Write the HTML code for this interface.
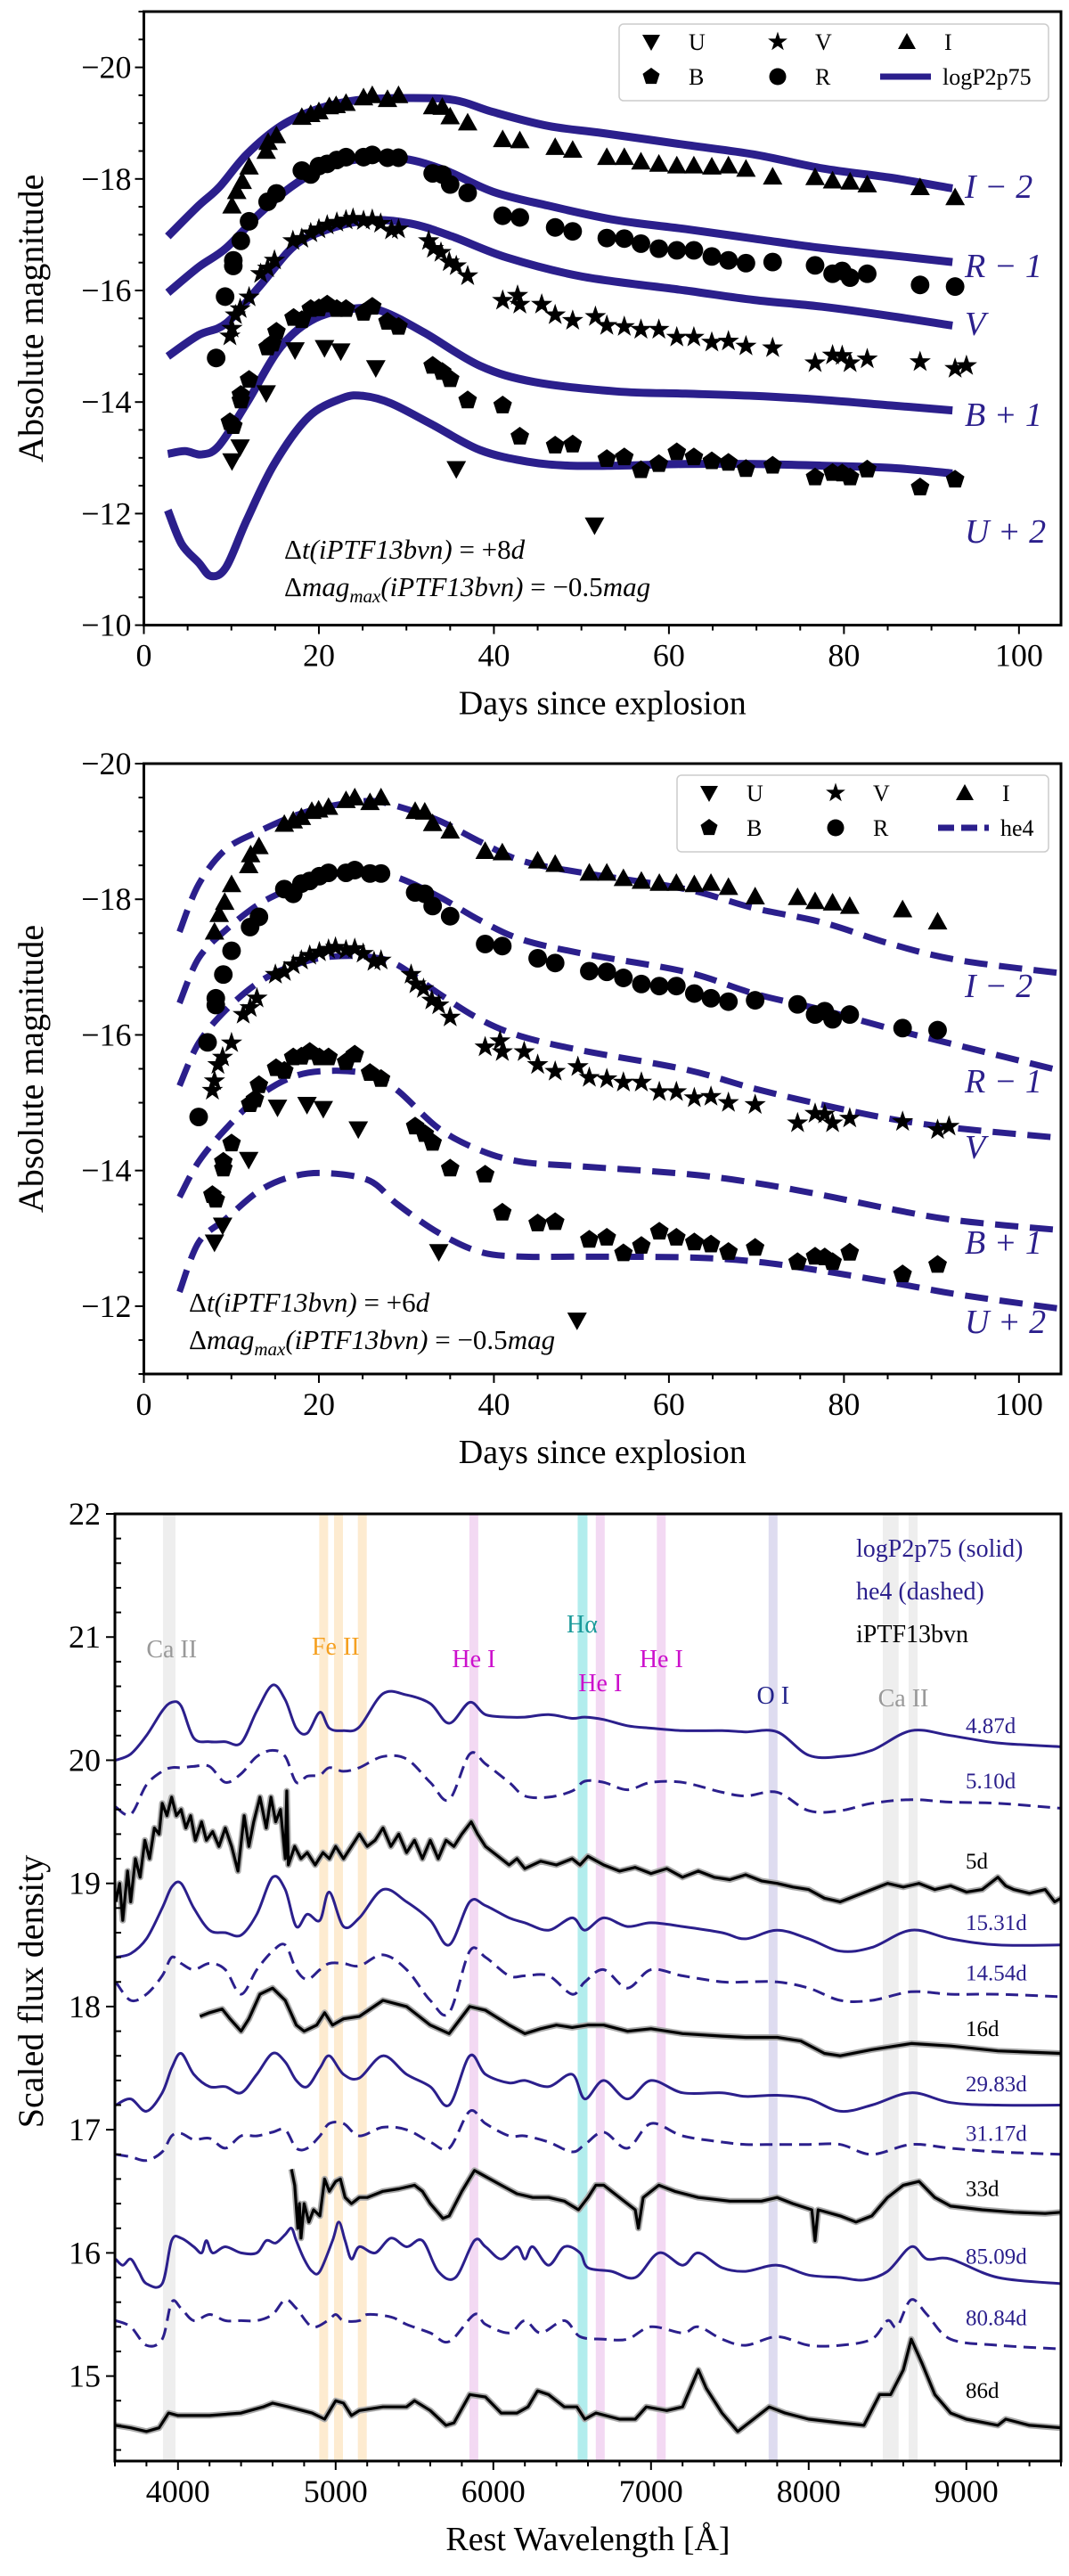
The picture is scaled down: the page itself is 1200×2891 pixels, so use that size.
<!DOCTYPE html>
<html><head><meta charset="utf-8"><style>
body{margin:0;background:#fff;}
svg{display:block;font-family:"Liberation Serif",serif;}
</style></head><body>
<svg id="fig" width="1200" height="2891" viewBox="0 0 1200 2891" xmlns="http://www.w3.org/2000/svg"></svg>
<script>
// ---------- photometry (phase as in panel 2; panel 1 = +2 d) ----------
const iDays=[8.07,8.61,9.24,10.02,11.98,12.2,13.15,16.05,17.07,18.0,19.19,19.97,21.1,23.1,24.1,25.84,27.1,31.0,32.1,33.0,35.0,39.0,40.96,45.0,47.0,50.9,52.9,54.8,56.85,58.9,60.85,62.9,64.8,66.8,69.85,74.7,76.7,78.7,80.66,86.7,90.7];
const iMags=[-17.52,-17.78,-17.96,-18.22,-18.50,-18.66,-18.78,-19.11,-19.16,-19.21,-19.30,-19.32,-19.36,-19.46,-19.50,-19.43,-19.50,-19.30,-19.29,-19.12,-19.01,-18.71,-18.69,-18.57,-18.52,-18.39,-18.39,-18.31,-18.27,-18.24,-18.24,-18.22,-18.24,-18.18,-18.04,-18.03,-17.97,-17.95,-17.90,-17.85,-17.67];
const rDays=[6.26,7.28,8.22,8.22,9.08,10.02,12.14,13.15,16.05,17.07,18.0,18.95,20.05,21.1,23.1,24.1,25.84,27.1,31,32.1,33,35,39,40.96,45,47,50.9,52.9,54.8,56.85,58.9,60.85,62.9,64.8,66.8,69.85,74.7,76.7,77.8,78.7,80.66,86.7,90.7];
const rMags=[-14.79,-15.89,-16.44,-16.54,-16.89,-17.24,-17.59,-17.74,-18.15,-18.08,-18.23,-18.27,-18.34,-18.39,-18.39,-18.43,-18.38,-18.38,-18.10,-18.08,-17.90,-17.75,-17.34,-17.31,-17.13,-17.06,-16.94,-16.93,-16.84,-16.75,-16.72,-16.72,-16.61,-16.54,-16.49,-16.51,-16.45,-16.30,-16.35,-16.23,-16.30,-16.10,-16.07];
const vDays=[7.83,8.07,8.46,9.0,10.02,11.35,12.14,12.92,15.03,16.05,17.07,18,18.95,20.05,21.1,21.9,23.1,24.1,25.06,26.3,27.1,30.54,31.09,31.95,32.9,33.7,35,39,40.7,40.96,43.46,45,47,49.6,50.9,52.9,54.8,56.85,58.9,60.85,62.9,64.8,66.8,69.85,74.7,76.7,77.8,78.7,80.66,86.7,90.7,92.0];
const vMags=[-15.18,-15.32,-15.56,-15.67,-15.88,-16.30,-16.40,-16.54,-16.89,-16.93,-17.03,-17.10,-17.17,-17.22,-17.26,-17.29,-17.25,-17.27,-17.20,-17.08,-17.10,-16.89,-16.75,-16.68,-16.51,-16.44,-16.26,-15.82,-15.91,-15.75,-15.75,-15.56,-15.46,-15.53,-15.37,-15.35,-15.30,-15.30,-15.16,-15.16,-15.07,-15.09,-15.00,-14.97,-14.70,-14.84,-14.83,-14.70,-14.77,-14.72,-14.60,-14.65];
const bDays=[7.83,8.22,9.08,9.08,10.02,12.14,12.69,13.15,15.11,16.05,17.07,18,18.95,20.05,21.1,23.1,24.1,25.84,27.1,31,32.1,33,35,39,40.96,45,47,50.9,52.9,54.8,56.85,58.9,60.85,62.9,64.8,66.8,69.85,74.7,76.7,77.8,78.7,80.66,86.7,90.7];
const bMags=[-13.64,-13.57,-14.03,-14.13,-14.40,-14.98,-15.05,-15.26,-15.51,-15.47,-15.67,-15.68,-15.75,-15.67,-15.67,-15.60,-15.71,-15.44,-15.35,-14.65,-14.54,-14.41,-14.03,-13.94,-13.38,-13.22,-13.24,-12.98,-13.01,-12.78,-12.89,-13.10,-13.01,-12.94,-12.91,-12.80,-12.86,-12.65,-12.73,-12.72,-12.65,-12.79,-12.47,-12.61];
const uDays=[8.07,9.0,11.98,15.27,18.64,20.5,24.5,33.7,49.5];
const uMags=[-12.94,-13.19,-14.16,-14.93,-14.97,-14.91,-14.61,-12.80,-11.79];
// ---------- model logP2p75 (panel 1 phase) ----------
const m1IDays=[2.74,6.26,8.6,11.75,15.66,19.6,24.3,30.5,35.6,39.9,46.2,52.5,61.9,69.7,77.5,85.4,92.4];
const m1IMags=[-16.97,-17.52,-17.85,-18.44,-18.95,-19.24,-19.41,-19.45,-19.41,-19.2,-18.95,-18.82,-18.61,-18.44,-18.19,-18.02,-17.83];
const m1RDays=[2.74,6.26,9.4,13.3,17.2,21.1,25.1,29.8,34.5,39.9,46.2,54,61.9,69.7,77.5,85.4,92.4];
const m1RMags=[-15.96,-16.42,-16.76,-17.39,-17.9,-18.23,-18.36,-18.36,-18.15,-17.77,-17.52,-17.26,-17.1,-16.93,-16.76,-16.63,-16.51];
const m1VDays=[2.74,6.26,9.4,13.3,17.2,21.1,25.8,30.5,35.2,41.5,50.1,61.9,69.7,77.5,85.4,92.4];
const m1VMags=[-14.82,-15.2,-15.41,-16.09,-16.8,-17.1,-17.26,-17.2,-16.97,-16.59,-16.25,-16.0,-15.83,-15.71,-15.54,-15.37];
const m1BDays=[2.74,4.7,6.66,8.6,11.75,15.66,19.6,24.3,27.4,32.1,38.4,44.6,54,61.9,69.7,77.5,85.4,92.4];
const m1BMags=[-13.07,-13.12,-13.06,-13.22,-13.98,-14.99,-15.5,-15.68,-15.62,-15.24,-14.65,-14.36,-14.19,-14.15,-14.11,-14.04,-13.94,-13.85];
const m1UDays=[2.74,4.3,6.26,7.67,9.4,11.75,14.9,18.8,22.7,25.1,28.2,32.9,38.4,43.9,48.6,54,61.9,69.7,77.5,85.4,92.4];
const m1UMags=[-12.06,-11.46,-11.12,-10.88,-11.04,-11.88,-12.89,-13.73,-14.07,-14.11,-13.98,-13.6,-13.14,-12.93,-12.86,-12.86,-12.89,-12.89,-12.86,-12.82,-12.72];
// ---------- model he4 (panel 2) ----------
const m2Days=[4.07,6.26,9.4,13.3,17.2,21.1,25.8,29,33.7,38.4,43.1,50.1,61.9,69.7,77.5,85.4,93.2,104.8];
const m2IMags=[-17.52,-18.22,-18.74,-19.01,-19.23,-19.37,-19.45,-19.37,-19.16,-18.85,-18.57,-18.39,-18.15,-17.87,-17.66,-17.34,-17.1,-16.91];
const m2RMags=[-16.47,-17.13,-17.55,-17.94,-18.18,-18.36,-18.39,-18.32,-18.04,-17.69,-17.41,-17.2,-16.93,-16.61,-16.37,-16.09,-15.84,-15.47];
const m2VMags=[-15.25,-15.88,-16.37,-16.79,-17.03,-17.15,-17.15,-17.03,-16.61,-16.23,-15.98,-15.77,-15.49,-15.21,-14.97,-14.76,-14.62,-14.48];
const m2BMags=[-13.61,-14.13,-14.62,-15.11,-15.39,-15.47,-15.42,-15.18,-14.62,-14.30,-14.13,-14.06,-13.95,-13.82,-13.64,-13.43,-13.26,-13.12];
const m2UMags=[-12.21,-12.94,-13.29,-13.71,-13.92,-13.96,-13.85,-13.5,-13.08,-12.80,-12.73,-12.73,-12.72,-12.66,-12.52,-12.35,-12.17,-11.96];
// ---------- spectra ----------
const gridW=[3605,3700,3800,3900,3960,4020,4100,4200,4300,4400,4500,4600,4680,4750,4820,4900,4960,5050,5150,5300,5450,5600,5720,5850,5950,6100,6200,6350,6500,6580,6700,6850,7000,7200,7450,7600,7800,8000,8200,8400,8650,8900,9200,9600];
const s487=[20.00,20.05,20.20,20.40,20.47,20.44,20.18,20.15,20.15,20.14,20.40,20.61,20.49,20.26,20.22,20.39,20.26,20.24,20.27,20.54,20.53,20.46,20.30,20.47,20.37,20.35,20.35,20.37,20.34,20.35,20.33,20.28,20.26,20.24,20.24,20.23,20.23,20.04,20.03,20.08,20.24,20.20,20.14,20.11];
const s510=[19.62,19.56,19.80,19.91,19.94,19.94,19.95,19.95,19.82,19.89,20.03,20.08,20.03,19.82,19.87,19.88,19.94,19.91,19.94,20.03,20.01,19.82,19.68,20.05,19.97,19.82,19.71,19.70,19.75,19.83,19.82,19.76,19.82,19.82,19.74,19.71,19.74,19.59,19.59,19.65,19.68,19.66,19.65,19.61];
const s1531=[18.40,18.43,18.55,18.80,18.97,19.00,18.80,18.62,18.60,18.58,18.75,19.05,18.95,18.65,18.75,18.70,18.93,18.65,18.72,18.95,18.85,18.70,18.50,18.85,18.82,18.72,18.68,18.62,18.72,18.62,18.72,18.65,18.68,18.65,18.60,18.55,18.62,18.55,18.45,18.48,18.62,18.55,18.50,18.50];
const s1454=[18.20,18.05,18.10,18.25,18.40,18.35,18.30,18.35,18.30,18.10,18.30,18.45,18.50,18.30,18.22,18.30,18.35,18.35,18.33,18.42,18.30,18.05,17.95,18.45,18.40,18.25,18.25,18.25,18.10,18.20,18.30,18.15,18.30,18.25,18.20,18.20,18.20,18.15,18.05,18.05,18.12,18.10,18.10,18.08];
const s2983=[17.20,17.25,17.15,17.30,17.50,17.62,17.45,17.35,17.35,17.30,17.45,17.62,17.55,17.40,17.35,17.50,17.60,17.45,17.42,17.60,17.45,17.35,17.20,17.60,17.45,17.38,17.40,17.35,17.45,17.25,17.40,17.25,17.40,17.30,17.30,17.27,17.28,17.25,17.15,17.20,17.30,17.22,17.20,17.20];
const s3117=[16.80,16.78,16.75,16.82,16.95,16.97,16.92,16.93,16.85,16.95,16.95,16.98,17.00,16.85,16.85,16.95,17.05,17.05,16.95,17.02,17.00,16.90,16.85,17.15,17.05,16.95,16.95,16.90,16.82,16.88,16.98,16.85,17.05,16.95,16.90,16.88,16.88,16.88,16.88,16.80,16.88,16.85,16.82,16.80];
const w8509=[3605,3650,3700,3750,3800,3900,3960,4020,4100,4150,4180,4220,4300,4400,4500,4560,4620,4680,4720,4750,4800,4850,4900,4980,5020,5060,5100,5150,5250,5350,5450,5550,5650,5760,5880,5950,6050,6150,6200,6250,6350,6450,6550,6600,6750,6900,7050,7200,7300,7450,7600,7800,8000,8200,8350,8500,8650,8750,8900,9200,9600];
const s8509=[15.95,15.90,15.95,15.85,15.75,15.75,16.10,16.12,16.05,16.00,16.10,16.00,16.05,16.00,16.00,16.10,16.08,16.15,16.20,16.10,15.95,15.85,15.85,16.10,16.25,16.10,15.95,16.05,16.00,16.12,16.05,16.10,15.85,15.80,16.10,16.05,15.95,16.05,15.95,16.05,15.90,16.05,16.00,15.88,15.85,15.80,16.00,15.90,16.00,15.88,15.85,15.90,15.82,15.80,15.78,15.85,16.05,15.95,15.95,15.80,15.75];
const w8084=[3605,3700,3800,3900,3960,4020,4100,4200,4300,4400,4500,4600,4680,4750,4850,4950,5000,5050,5150,5200,5350,5450,5600,5720,5880,5950,6100,6200,6300,6450,6550,6700,6850,7000,7200,7300,7450,7600,7800,8000,8200,8400,8500,8560,8650,8750,8900,9200,9600];
const s8084=[15.45,15.40,15.25,15.30,15.60,15.55,15.45,15.50,15.45,15.45,15.45,15.50,15.62,15.55,15.40,15.45,15.50,15.45,15.45,15.50,15.48,15.42,15.35,15.28,15.50,15.42,15.35,15.45,15.35,15.45,15.32,15.30,15.30,15.40,15.35,15.40,15.30,15.25,15.32,15.25,15.25,15.30,15.45,15.40,15.62,15.50,15.30,15.25,15.22];
const w5d=[3605,3630,3650,3680,3700,3730,3760,3790,3820,3850,3880,3900,3930,3960,3990,4020,4050,4080,4110,4150,4180,4220,4260,4300,4340,4380,4420,4450,4480,4520,4560,4590,4620,4650,4680,4690,4700,4740,4780,4820,4870,4920,4960,5000,5050,5100,5150,5200,5250,5300,5350,5400,5450,5500,5550,5600,5650,5700,5750,5800,5860,5900,5950,6000,6050,6100,6150,6200,6300,6400,6500,6550,6600,6700,6800,6900,7000,7100,7200,7300,7400,7500,7600,7700,7800,7900,8000,8100,8200,8300,8400,8500,8600,8700,8800,8900,9000,9100,9200,9250,9300,9400,9500,9560,9600];
const s5d=[18.85,19.0,18.7,19.1,18.85,19.2,19.05,19.35,19.2,19.45,19.4,19.65,19.55,19.7,19.55,19.6,19.45,19.55,19.35,19.5,19.35,19.42,19.3,19.45,19.3,19.1,19.55,19.3,19.5,19.7,19.45,19.7,19.5,19.6,19.2,19.75,19.15,19.3,19.2,19.25,19.15,19.25,19.2,19.3,19.2,19.3,19.4,19.3,19.35,19.45,19.3,19.4,19.25,19.35,19.2,19.35,19.2,19.35,19.3,19.4,19.5,19.4,19.3,19.25,19.2,19.15,19.2,19.12,19.18,19.15,19.2,19.15,19.22,19.15,19.1,19.13,19.08,19.12,19.05,19.1,19.05,19.03,19.07,19.02,19.0,18.97,18.95,18.88,18.85,18.9,18.95,19.0,18.97,19.0,18.95,18.98,18.93,18.95,19.05,18.98,18.95,18.92,18.95,18.85,18.88];
const w16d=[4139,4200,4280,4330,4400,4450,4520,4600,4680,4750,4800,4880,4930,4980,5050,5150,5300,5450,5600,5720,5850,5950,6100,6200,6300,6400,6500,6600,6700,6850,7000,7200,7450,7600,7800,7950,8100,8200,8400,8650,8900,9200,9600];
const s16d=[17.92,17.95,17.98,17.9,17.8,17.9,18.1,18.15,18.05,17.85,17.8,17.85,17.95,17.85,17.9,17.92,18.05,18.0,17.85,17.78,18.0,17.97,17.85,17.78,17.82,17.85,17.83,17.85,17.85,17.8,17.82,17.78,17.76,17.75,17.75,17.72,17.62,17.6,17.65,17.7,17.68,17.64,17.62];
const w33d=[4720,4740,4760,4770,4780,4800,4830,4860,4900,4930,4960,5000,5030,5060,5100,5150,5200,5300,5400,5500,5550,5600,5680,5720,5800,5880,5950,6050,6150,6250,6350,6450,6540,6600,6650,6700,6800,6900,6920,6950,7050,7150,7300,7500,7700,7800,7900,8020,8040,8060,8200,8300,8400,8500,8600,8700,8800,8900,9100,9300,9500,9600];
const s33d=[16.68,16.55,16.2,16.4,16.12,16.4,16.25,16.35,16.3,16.6,16.5,16.58,16.6,16.45,16.4,16.45,16.45,16.5,16.52,16.55,16.5,16.4,16.28,16.3,16.5,16.67,16.62,16.55,16.48,16.45,16.45,16.42,16.35,16.45,16.55,16.55,16.45,16.35,16.2,16.45,16.55,16.5,16.45,16.42,16.42,16.45,16.4,16.35,16.1,16.35,16.3,16.25,16.3,16.45,16.55,16.58,16.45,16.38,16.35,16.33,16.32,16.33];
const w86d=[3605,3700,3800,3880,3940,4000,4200,4400,4540,4600,4700,4850,4930,5000,5050,5100,5150,5300,5450,5500,5600,5700,5750,5850,5950,6050,6150,6220,6280,6350,6450,6530,6580,6650,6800,6900,6970,7100,7200,7300,7350,7450,7550,7650,7750,7850,8000,8200,8350,8450,8520,8600,8650,8720,8800,8900,9000,9200,9250,9400,9600];
const s86d=[14.6,14.58,14.55,14.58,14.7,14.68,14.68,14.7,14.75,14.78,14.75,14.7,14.65,14.8,14.78,14.68,14.72,14.75,14.75,14.8,14.72,14.6,14.62,14.85,14.83,14.7,14.7,14.75,14.88,14.85,14.75,14.75,14.65,14.7,14.65,14.65,14.75,14.72,14.75,15.05,14.9,14.7,14.55,14.65,14.75,14.7,14.65,14.62,14.6,14.85,14.85,15.05,15.3,15.1,14.85,14.7,14.65,14.6,14.65,14.6,14.58];
const epochLabels=["4.87d","5.10d","5d","15.31d","14.54d","16d","29.83d","31.17d","33d","85.09d","80.84d","86d"];
const epochLabelFlux=[20.28,19.83,19.18,18.68,18.27,17.82,17.37,16.97,16.52,15.97,15.47,14.88];
const lineNames=["Ca II","Fe II","He I","Hα","He I","He I","O I","Ca II"];
const lineWl=[3960,5000,5876,6563,6678,7065,7774,8600];
const bandWl=[3950,4924,5018,5169,5876,6563,6678,7065,7774,8498,8542,8662];

const NS="http://www.w3.org/2000/svg";
const svg=document.getElementById('fig');
const NAVY="#2b1f8c";
function el(tag,attrs,parent){const e=document.createElementNS(NS,tag);for(const k in attrs)e.setAttribute(k,attrs[k]);(parent||svg).appendChild(e);return e;}
function txt(s,attrs,parent){const e=el('text',attrs,parent);e.textContent=s;return e;}
function smooth(pts){let d=`M${pts[0][0].toFixed(1)},${pts[0][1].toFixed(1)}`;for(let i=0;i<pts.length-1;i++){const p0=pts[Math.max(0,i-1)],p1=pts[i],p2=pts[i+1],p3=pts[Math.min(pts.length-1,i+2)];const c1=[p1[0]+(p2[0]-p0[0])/6,p1[1]+(p2[1]-p0[1])/6],c2=[p2[0]-(p3[0]-p1[0])/6,p2[1]-(p3[1]-p1[1])/6];d+=`C${c1[0].toFixed(1)},${c1[1].toFixed(1)} ${c2[0].toFixed(1)},${c2[1].toFixed(1)} ${p2[0].toFixed(1)},${p2[1].toFixed(1)}`;}return d;}
function poly(pts){return 'M'+pts.map(p=>p[0].toFixed(1)+','+p[1].toFixed(1)).join('L');}

function marker(type,cx,cy,g,s){s=s||11;let e;
 if(type==='U'){e=el('polygon',{points:`${cx-s},${cy-s*0.8} ${cx+s},${cy-s*0.8} ${cx},${cy+s}`,fill:'#000'},g);}
 else if(type==='I'){e=el('polygon',{points:`${cx-s},${cy+s*0.8} ${cx+s},${cy+s*0.8} ${cx},${cy-s}`,fill:'#000'},g);}
 else if(type==='R'){e=el('circle',{cx:cx,cy:cy,r:s*0.95,fill:'#000'},g);}
 else if(type==='B'){let p=[];for(let k=0;k<5;k++){const a=-Math.PI/2+k*2*Math.PI/5;p.push((cx+s*Math.cos(a)).toFixed(1)+','+(cy+s*Math.sin(a)).toFixed(1));}e=el('polygon',{points:p.join(' '),fill:'#000'},g);}
 else {let p=[];for(let k=0;k<10;k++){const a=-Math.PI/2+k*Math.PI/5,r=k%2?s*0.45:s*1.15;p.push((cx+r*Math.cos(a)).toFixed(1)+','+(cy+r*Math.sin(a)).toFixed(1));}e=el('polygon',{points:p.join(' '),fill:'#000'},g);}
 return e;}

function lcPanel(o){
 const g=el('g',{});
 const X=d=>o.L+(d-0)/(104.8)*(o.R-o.L);
 const Y=m=>o.T+(m-o.mTop)/(o.mBot-o.mTop)*(o.B-o.T);
 for(let d=0;d<=104;d+=5){const maj=d%20===0;el('line',{x1:X(d),x2:X(d),y1:o.B,y2:o.B+(maj?10:6),stroke:'#000','stroke-width':2},g);
  if(maj){const t=txt(String(d),{x:X(d),y:o.B+46,'font-size':36,'text-anchor':'middle'},g);}}
 for(let m=Math.ceil(o.mTop*2)/2;m<=o.mBot+0.001;m+=0.5){const maj=Math.abs(m%2)<0.01;el('line',{x1:o.L,x2:o.L-(maj?10:6),y1:Y(m),y2:Y(m),stroke:'#000','stroke-width':2},g);
  if(maj){const t=txt('−'+Math.abs(m),{x:o.L-14,y:Y(m)+12,'font-size':36,'text-anchor':'end'},g);}}
 const clip=el('clipPath',{id:o.name+'-clip'},g);el('rect',{x:o.L,y:o.T,width:o.R-o.L,height:o.B-o.T},clip);
 const plot=el('g',{'clip-path':`url(#${o.name}-clip)`},g);
 o.models.forEach((md,i)=>{const pts=md.d.map((d,k)=>[X(d),Y(md.m[k])]);const p=el('path',{d:smooth(pts),fill:'none',stroke:NAVY,'stroke-width':o.dash?7:9,'stroke-dasharray':o.dash?'26 13':'none'},plot);
  });
 const sets=[['U',uDays,uMags],['B',bDays,bMags],['V',vDays,vMags],['R',rDays,rMags],['I',iDays,iMags]];
 sets.forEach(([b,ds,ms])=>{ds.forEach((d,k)=>{const m=marker(b,X(d+o.shift),Y(ms[k]),plot);});});
 el('rect',{x:o.L,y:o.T,width:o.R-o.L,height:o.B-o.T,fill:'none',stroke:'#000','stroke-width':3},g);
 o.labels.forEach(([s,y])=>{const t=txt(s,{x:1083,y:y,'font-size':38,'font-style':'italic',fill:NAVY},g);});
 const a1=txt('',{x:o.ax,y:o.ay,'font-size':31,'font-style':'italic'},g);a1.innerHTML=`<tspan font-style="normal">Δ</tspan>t(iPTF13bvn) <tspan font-style="normal">= +${o.dt}</tspan>d`;
 const a2=txt('',{x:o.ax,y:o.ay+42,'font-size':31,'font-style':'italic'},g);a2.innerHTML=`<tspan font-style="normal">Δ</tspan>mag<tspan font-size="21" dy="7">max</tspan><tspan dy="-7">(iPTF13bvn) </tspan><tspan font-style="normal">= −0.5</tspan>mag`;
 const xl=txt('Days since explosion',{x:(o.L+o.R)/2,y:o.B+100,'font-size':38,'text-anchor':'middle'},g);
 const yl=txt('Absolute magnitude',{x:0,y:0,'font-size':40,'text-anchor':'middle',transform:`translate(48,${(o.T+o.B)/2}) rotate(-90)`},g);
 const lg=el('g',{},g);
 el('rect',{x:o.lx,y:o.ly,width:1177-o.lx,height:86,rx:5,fill:'#fff',stroke:'#ccc','stroke-width':1.5},lg);
 const cols=[o.lx+36,o.lx+178,o.lx+323];
 [['U',0,0],['V',1,0],['I',2,0],['B',0,1],['R',1,1]].forEach(([b,c,r])=>{const cy=o.ly+20+r*39;marker(b,cols[c],cy,lg,10);const t=txt(b,{x:cols[c]+42,y:cy+9,'font-size':26},lg);});
 const ly2=o.ly+59;el('line',{x1:cols[2]-30,x2:cols[2]+27,y1:ly2,y2:ly2,stroke:NAVY,'stroke-width':7,'stroke-dasharray':o.dash?'18 8':'none'},lg);
 const lt=txt(o.model,{x:cols[2]+40,y:ly2+9,'font-size':26},lg);
}

lcPanel({name:'panel-logP2p75',L:161.5,R:1191,T:13,B:701.6,mTop:-21,mBot:-10,shift:2,dash:false,dt:'8',ax:319,ay:627,lx:695,ly:27,model:'logP2p75',
 models:[{band:'I',d:m1IDays,m:m1IMags},{band:'R',d:m1RDays,m:m1RMags},{band:'V',d:m1VDays,m:m1VMags},{band:'B',d:m1BDays,m:m1BMags},{band:'U',d:m1UDays,m:m1UMags}],
 labels:[['I − 2',222],['R − 1',311],['V',376],['B + 1',478],['U + 2',609]]});
lcPanel({name:'panel-he4',L:161.5,R:1191,T:857,B:1542,mTop:-20,mBot:-11,shift:0,dash:true,dt:'6',ax:212,ay:1472,lx:760,ly:870,model:'he4',
 models:[{band:'I',d:m2Days,m:m2IMags},{band:'R',d:m2Days,m:m2RMags},{band:'V',d:m2Days,m:m2VMags},{band:'B',d:m2Days,m:m2BMags},{band:'U',d:m2Days,m:m2UMags}],
 labels:[['I − 2',1119],['R − 1',1226],['V',1300],['B + 1',1407],['U + 2',1496]]});

(function(){
 const L=129,R=1191,T=1699,B=2762,f0=22,f1=14.31;
 const X=w=>L+(w-3600)/6000*(R-L);
 const Y=f=>T+(f0-f)/(f0-f1)*(B-T);
 const g=el('g',{});
 const bandCol={3950:'#eeeeee',4924:'#fdebd0',5018:'#fdebd0',5169:'#fdebd0',5876:'#f3d9f3',6563:'#b2eded',6678:'#f3d9f3',7065:'#f3d9f3',7774:'#dedcf0',8498:'#eeeeee',8542:'#eeeeee',8662:'#eeeeee'};
 bandWl.forEach(w=>{const r=el('rect',{x:X(w)-(w===3950?8:5),y:T,width:w===3950?14:w===6563?11:10,height:B-T,fill:bandCol[w]},g);});
 const lcols=['#999999','#f5a020','#cc10cc','#1a9a9a','#cc10cc','#cc10cc','#22228a','#999999'];
 const ly=[1860,1857,1871,1832,1898,1871,1912,1915];
 lineNames.forEach((n,i)=>{const t=txt(n,{x:X(lineWl[i]),y:ly[i],'font-size':28,'text-anchor':'middle',fill:lcols[i]},g);});
 const clip=el('clipPath',{id:'spec-clip'},g);el('rect',{x:L,y:T,width:R-L,height:B-T},clip);
 const plot=el('g',{'clip-path':'url(#spec-clip)'},g);
 const specs=[[gridW,s487,'model'],[gridW,s510,'dash'],[w5d,s5d,'obs'],[gridW,s1531,'model'],[gridW,s1454,'dash'],[w16d,s16d,'obs'],[gridW,s2983,'model'],[gridW,s3117,'dash'],[w33d,s33d,'obs'],[w8509,s8509,'model'],[w8084,s8084,'dash'],[w86d,s86d,'obs']];
 specs.forEach(([w,f,kind],i)=>{const pts=w.map((x,k)=>[X(x),Y(f[k])]);
  if(kind==='obs'){const gp=el('path',{d:poly(pts),fill:'none',stroke:'#aaa','stroke-width':7,'stroke-linejoin':'round'},plot);
   const p=el('path',{d:poly(pts),fill:'none',stroke:'#000','stroke-width':3.2,'stroke-linejoin':'round'},plot);}
  else{const p=el('path',{d:smooth(pts),fill:'none',stroke:NAVY,'stroke-width':3,'stroke-dasharray':kind==='dash'?'14 8':'none'},plot);}
  const t=txt(epochLabels[i],{x:1084,y:Y(epochLabelFlux[i])+8,'font-size':25,fill:kind==='obs'?'#000':NAVY},g);
 });
 el('rect',{x:L,y:T,width:R-L,height:B-T,fill:'none',stroke:'#000','stroke-width':3},g);
 for(let w=3600;w<=9600;w+=200){const maj=w%1000===0;el('line',{x1:X(w),x2:X(w),y1:B,y2:B+(maj?10:6),stroke:'#000','stroke-width':2},g);
  if(maj){const t=txt(String(w),{x:X(w),y:B+46,'font-size':36,'text-anchor':'middle'},g);}}
 for(let k=0;k<=38;k++){const f=14.4+k*0.2;if(f>22.001)break;const maj=Math.abs(f-Math.round(f))<0.01;el('line',{x1:L,x2:maj?L-10:L+7,y1:Y(f),y2:Y(f),stroke:'#000','stroke-width':2},g);
  if(maj){const t=txt(String(Math.round(f)),{x:L-16,y:Y(f)+12,'font-size':36,'text-anchor':'end'},g);}}
 const xl=txt('Rest Wavelength [Å]',{x:(L+R)/2,y:2862,'font-size':38,'text-anchor':'middle'},g);
 const yl=txt('Scaled flux density',{x:0,y:0,'font-size':40,'text-anchor':'middle',transform:`translate(48,2235) rotate(-90)`},g);
 const lg=el('g',{},g);
 [['logP2p75 (solid)',1747,NAVY],['he4 (dashed)',1795,NAVY],['iPTF13bvn',1843,'#000']].forEach(([s,y,c])=>{const t=txt(s,{x:961,y:y,'font-size':28,fill:c},lg);});
})();
</script>
</body></html>
